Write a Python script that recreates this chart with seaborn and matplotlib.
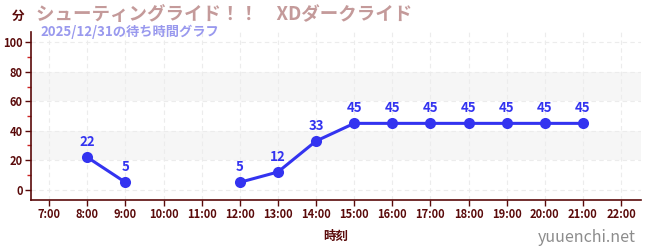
import numpy as np
import pandas as pd
import matplotlib
matplotlib.use("Agg")
import matplotlib.pyplot as plt
import seaborn as sns

hours = [8, 9, 10, 11, 12, 13, 14, 15, 16, 17, 18, 19, 20, 21]
waits = [22, 5, np.nan, np.nan, 5, 12, 33, 45, 45, 45, 45, 45, 45, 45]
tick_hours = list(range(7, 23))
tick_labels = [f"{h}:00" for h in tick_hours]
title = "シューティングライド！！　XDダークライド"
subtitle = "2025/12/31の待ち時間グラフ"

sns.set_theme(style="white")
plt.rcParams['font.family'] = ['Noto Sans CJK JP', 'DejaVu Sans']

df = pd.DataFrame({"hour": hours, "wait": waits})

fig = plt.figure(figsize=(6.5, 2.5), dpi=100)
ax = fig.add_axes([0.048, 0.2, 0.938, 0.672])

line_c = "#3333f0"
for a, b in [(20, 40), (60, 80)]:
    ax.axhspan(a, b, color="#f6f6f6", zorder=0, lw=0)

seg = df.copy()
seg["grp"] = seg["wait"].isna().cumsum()
seg = seg.dropna()
for g, d in seg.groupby("grp"):
    sns.lineplot(data=d, x="hour", y="wait", ax=ax, color=line_c, lw=2.2,
                 marker="o", markersize=8, markeredgewidth=0, zorder=3)

for h, w in zip(hours, waits):
    if not np.isnan(w):
        ax.annotate(f"{int(w)}", (h, w), xytext=(0, 6), textcoords="offset points",
                    ha="center", va="bottom", color=line_c, fontsize=9.5,
                    fontweight="bold")

ax.set_xlim(6.53, 22.52)
ax.set_ylim(-7, 107)
ax.set_xticks(tick_hours)
ax.set_xticklabels(tick_labels)
ax.set_yticks([0, 20, 40, 60, 80, 100])
ax.set_yticks([10, 30, 50, 70, 90], minor=True)
ax.grid(True, which="major", color="#ececec", ls=(0, (4, 3)), lw=0.8)
ax.set_axisbelow(True)

spc = "#5a0a0a"
for s in ["top", "right"]:
    ax.spines[s].set_visible(False)
for s in ["left", "bottom"]:
    ax.spines[s].set_color(spc)
    ax.spines[s].set_linewidth(1.2)
ax.tick_params(axis="both", which="major", length=4, width=1, color=spc,
               labelcolor=spc, labelsize=8, pad=2, left=True, bottom=True)
ax.tick_params(axis="y", which="minor", length=3, width=1, color="#cc2222", left=True)
ax.set_xlabel("時刻", color=spc, fontsize=9, fontweight="bold", labelpad=6)
ax.set_ylabel("")
for lbl in ax.get_xticklabels() + ax.get_yticklabels():
    lbl.set_fontweight("bold")

fig.text(0.018, 0.935, "分", color=spc, fontsize=9, fontweight="bold", va="center")
fig.text(0.055, 0.94, title, color="#c49a9a", fontsize=13.3, fontweight="bold", va="center")
fig.text(0.063, 0.873, subtitle, color="#9999ee", fontsize=9.5, fontweight="bold", va="center")
fig.text(0.978, 0.05, "yuuenchi.net", color="#8c8c8c", fontsize=11.5, ha="right", va="center")

fig.savefig("out.png", dpi=100)
